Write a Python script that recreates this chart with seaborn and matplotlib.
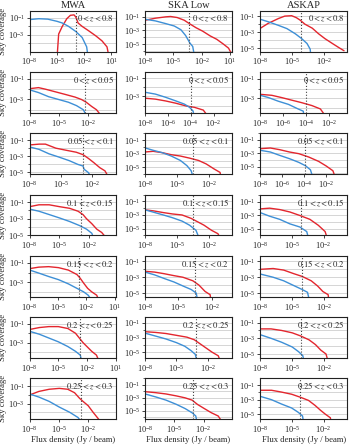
import numpy as np
import pandas as pd
import seaborn as sns
import matplotlib.pyplot as plt
from matplotlib.ticker import LogLocator, NullLocator, FixedLocator, NullFormatter

# === Panel labels ===
telescopes = ["MWA", "SKA Low", "ASKAP"]
z_bins = [r"$0 < z < 0.8$", r"$0 < z < 0.05$", r"$0.05 < z < 0.1$", r"$0.1 < z < 0.15$",
          r"$0.15 < z < 0.2$", r"$0.2 < z < 0.25$", r"$0.25 < z < 0.3$"]

# === Curves: log10 flux density, log10 sky coverage (one entry per z bin) ===
mwa_red_x = [[-5.0, -4.8, -4.4, -3.9, -3.5, -3.1, -2.9, -2.65, -2.2, -1.5, -0.7, 0.0, 0.55, 0.85],
             [-8, -7.1, -6.4, -5.4, -4.4, -3.35, -2.7, -2.2, -1.66, -1.15, -0.65],
             [-8, -7.1, -6.5, -5.5, -4.5, -3.55, -2.9, -2.4, -1.9, -1.3, -0.8, -0.45],
             [-8, -7.07, -6.03, -5.0, -3.96, -3.1, -2.6, -2.24, -1.7, -1.2, -0.7, -0.17],
             [-8, -7.05, -6.0, -4.95, -3.9, -3.0, -2.67, -2.3, -1.86, -1.44, -0.9, -0.67],
             [-8, -7.0, -6.0, -5.0, -4.0, -3.2, -2.8, -2.4, -2.0, -1.5, -1.0, -0.5],
             [-8, -7.06, -6.0, -4.97, -4.1, -3.4, -2.88, -2.53, -2.0, -1.5, -0.96, -0.44, -0.1]]
mwa_red_y = [[-6.0, -2.9, -2.0, -1.1, -0.7, -0.65, -0.9, -1.6, -2.0, -2.5, -3.1, -3.7, -4.4, -6.0],
             [-1.95, -1.85, -2.0, -2.25, -2.5, -2.77, -3.0, -3.27, -3.67, -4.0, -4.6],
             [-1.6, -1.5, -1.5, -2.0, -2.26, -2.5, -2.8, -3.25, -3.75, -4.4, -4.8, -5.6],
             [-1.55, -1.33, -1.33, -1.55, -1.75, -2.1, -2.5, -3.0, -3.6, -4.25, -4.65, -5.4],
             [-1.6, -1.45, -1.4, -1.5, -1.75, -2.2, -2.55, -3.05, -3.6, -3.95, -4.3, -4.8],
             [-1.6, -1.4, -1.3, -1.3, -1.5, -2.0, -2.5, -3.0, -3.4, -3.9, -4.3, -5.5],
             [-2.0, -1.6, -1.35, -1.25, -1.35, -1.75, -2.4, -2.75, -3.25, -4.0, -4.75, -5.5, -6.5]]
mwa_blue_x = [[-8, -7, -6, -5, -4.4, -3.7, -2.9, -2.2, -1.7, -1.5],
              [-8, -7.1, -6.07, -5.05, -4.03, -3.2, -2.5, -2.17],
              [-8, -7.1, -6.15, -5.2, -4.2, -3.4, -2.9, -2.8, -2.4, -2.1],
              [-8, -7.07, -6.03, -5.0, -3.96, -2.93, -2.24, -1.7, -1.5],
              [-8, -7.05, -6.0, -4.95, -3.9, -3.0, -2.3, -1.8, -1.44],
              [-8, -7.0, -6.0, -5.0, -4.0, -3.2, -2.7, -2.4],
              [-8, -7.06, -6.0, -4.97, -3.9, -3.05, -2.7, -2.53, -2.46]]
mwa_blue_y = [[-1.2, -1.1, -1.15, -1.4, -1.6, -2.0, -2.6, -3.3, -4.4, -6.0],
              [-2.07, -2.33, -2.73, -3.0, -3.27, -3.6, -4.0, -4.6],
              [-1.85, -2.15, -2.7, -3.1, -3.55, -4.0, -4.2, -4.6, -5.0, -5.6],
              [-1.85, -2.1, -2.5, -2.9, -3.33, -3.83, -4.25, -4.75, -5.4],
              [-1.75, -2.05, -2.4, -2.72, -3.15, -3.6, -3.95, -4.3, -4.8],
              [-1.8, -2.1, -2.5, -2.9, -3.4, -3.9, -4.3, -5.5],
              [-1.9, -2.25, -2.75, -3.4, -4.0, -4.6, -5.1, -5.75, -6.5]]

ska_red_x = [[-8, -6.9, -5.8, -5.3, -4.6, -3.85, -3.3, -2.6, -1.9, -1.1, -0.4, 0.3, 0.85, 1.2],
             [-8, -7.1, -6.2, -5.3, -4.4, -3.67, -2.9, -2.3],
             [-8, -7.25, -6.4, -5.55, -4.7, -3.85, -3.0, -2.3, -1.55, -1.0, -0.85],
             [-8, -7.2, -6.3, -5.45, -4.55, -3.7, -3.1, -2.5, -1.8, -1.2, -0.77],
             [-8, -7.15, -6.3, -5.4, -4.6, -3.7, -3.15, -2.6, -2.15, -2.0],
             [-8, -7, -6, -5, -4, -3.3, -2.8, -2.2, -1.6, -1.0, -0.6],
             [-8, -6.93, -5.86, -4.8, -3.9, -3.18, -2.64, -1.93, -1.2, -0.5, 0.03]]
ska_red_y = [[-1.5, -1.2, -1.0, -0.95, -1.1, -1.5, -2.0, -2.6, -3.1, -3.8, -4.3, -5.0, -5.6, -6.5],
             [-3.2, -3.3, -3.5, -3.75, -4.05, -4.2, -4.5, -5.5],
             [-2.75, -2.65, -2.85, -3.15, -3.35, -3.65, -4.0, -4.5, -5.25, -5.75, -7.0],
             [-2.25, -2.4, -2.65, -2.85, -3.0, -3.5, -4.0, -4.5, -5.25, -5.75, -7.0],
             [-2.25, -2.35, -2.55, -2.8, -3.0, -3.45, -4.0, -4.8, -5.2, -7.0],
             [-2.2, -2.3, -2.45, -2.7, -2.95, -3.3, -3.8, -4.4, -5.0, -5.5, -7.0],
             [-2.05, -2.2, -2.4, -2.7, -3.0, -3.35, -4.0, -4.65, -5.3, -5.8, -7.0]]
ska_blue_x = [[-8, -6.9, -5.8, -4.9, -4.2, -3.7, -3.25, -2.95, -2.8],
              [-8, -7.1, -6.2, -5.3, -4.55, -4.1, -3.8, -3.65],
              [-8, -7.25, -6.4, -5.55, -4.7, -4.1, -3.7, -3.4],
              [-8, -7.2, -6.3, -5.45, -4.55, -3.85, -3.25, -2.8],
              [-8, -7.15, -6.3, -5.4, -4.6, -3.85, -3.4, -3.15],
              [-8, -7, -6, -5, -4.2, -3.6, -3.2, -2.9],
              [-8, -6.93, -5.86, -4.8, -3.9, -3.18, -2.8, -2.64]]
ska_blue_y = [[-1.35, -1.6, -2.0, -2.35, -2.9, -3.75, -4.85, -5.35, -6.5],
              [-2.55, -2.75, -3.1, -3.5, -3.85, -4.2, -4.6, -5.5],
              [-2.15, -2.5, -2.85, -3.35, -4.0, -4.75, -5.5, -7.0],
              [-2.25, -2.6, -3.0, -3.4, -3.9, -4.5, -5.25, -7.0],
              [-2.35, -2.7, -3.15, -3.6, -4.1, -4.55, -5.0, -7.0],
              [-2.4, -2.8, -3.2, -3.7, -4.2, -4.8, -5.3, -7.0],
              [-2.4, -2.85, -3.35, -4.0, -4.65, -5.3, -5.8, -7.0]]

askap_red_x = [[-8, -7.27, -6.3, -5.7, -5.05, -4.6, -4.25, -3.8, -3.1, -2.5, -1.9, -1.2, -0.6, -0.1],
               [-8, -7.0, -6.15, -5.25, -4.4, -3.5, -2.75, -2.2],
               [-8, -7.1, -6.25, -5.35, -4.5, -3.6, -2.7, -2.0, -1.4, -1.1],
               [-8, -7.13, -6.17, -5.2, -4.25, -3.3, -2.5, -1.85, -1.5],
               [-8, -6.8, -5.8, -4.85, -4.05, -3.2, -2.6, -2.1, -1.6, -1.45],
               [-8, -7, -6, -5, -4.2, -3.4, -2.8, -2.3, -1.8, -1.4],
               [-8, -6.95, -6.0, -5.03, -4.23, -3.43, -2.8, -2.3, -1.83, -1.35, -1.2]]
askap_red_y = [[-2.5, -1.9, -1.3, -1.0, -0.95, -1.2, -1.5, -2.0, -2.5, -3.2, -3.8, -4.4, -4.9, -5.3],
               [-2.6, -2.7, -2.93, -3.2, -3.45, -3.75, -4.1, -5.0],
               [-2.3, -2.2, -2.45, -2.8, -3.05, -3.55, -4.2, -4.9, -5.6, -7.0],
               [-2.05, -1.95, -2.15, -2.5, -3.0, -3.55, -4.4, -5.3, -7.0],
               [-2.0, -1.9, -2.1, -2.55, -2.9, -3.45, -4.1, -4.8, -5.2, -7.0],
               [-1.8, -1.8, -2.0, -2.3, -2.7, -3.2, -3.8, -4.5, -5.0, -7.0],
               [-1.7, -1.7, -1.95, -2.25, -2.65, -3.1, -3.8, -4.45, -5.0, -5.5, -7.0]]
askap_blue_x = [[-8, -7.27, -6.3, -5.5, -4.7, -4.1, -3.6, -3.3, -3.2],
                [-8, -7.3, -6.45, -5.55, -4.7, -4.25, -4.1],
                [-8, -7.1, -6.25, -5.35, -4.5, -3.9, -3.45, -3.15],
                [-8, -7.13, -6.17, -5.2, -4.25, -3.6, -3.3],
                [-8, -6.8, -5.8, -4.85, -4.05, -3.55, -3.2],
                [-8, -7, -6, -5, -4.4, -4.0, -3.7],
                [-8, -6.95, -6.0, -5.03, -4.4, -4.0, -3.8]]
askap_blue_y = [[-1.4, -1.7, -2.15, -2.55, -3.2, -3.8, -4.4, -5.1, -6.5],
                [-2.7, -2.93, -3.3, -3.63, -4.1, -4.33, -5.5],
                [-2.55, -2.8, -3.3, -3.8, -4.35, -4.85, -5.45, -7.0],
                [-2.6, -3.1, -3.55, -4.2, -4.65, -5.3, -7.0],
                [-2.6, -3.0, -3.45, -4.05, -4.55, -4.9, -7.0],
                [-2.55, -3.0, -3.5, -4.1, -4.7, -5.2, -7.0],
                [-2.55, -3.0, -3.6, -4.15, -4.75, -5.25, -7.0]]

# log10 flux of the dotted vertical line
mwa_line = [-2.9, -2.35, -2.95, -2.75, -2.75, -2.7, -2.7]
ska_line = [-3.3, -4.0, -3.55, -3.55, -3.55, -3.1, -3.05]
askap_line = [-4.2, -4.0, -3.95, -4.1, -4.05, -4.2, -4.2]

# === Axis ranges (log10) ===
mwa_xmax = [1.6, 0.9, 0.3, 0.8, 1.2, 1.1, 0.9]
ska_xmax = [1.2, -0.4, 0.1, 0.1, -0.2, 0.3, 0.9]
askap_xmax = [0.2, -0.4, -0.1, 0.25, 0.2, 0.2, 0.25]
mwa_ylim = [(-4.95, -0.16), (-4.3, -0.33), (-5.2, -0.16), (-5.0, -0.1), (-4.45, -0.3), (-4.6, -0.3), (-4.8, -0.1)]
ska_ylim = [(-6.1, -0.1), (-4.8, -0.33), (-6.0, 0.0), (-6.0, 0.0), (-5.45, -0.3), (-5.8, -0.2), (-6.3, 0.0)]
askap_ylim = [(-5.4, -0.33), (-4.5, -0.3), (-6.1, 0.0), (-5.85, 0.0), (-5.45, -0.3), (-5.5, -0.3), (-5.7, -0.06)]
xtick_step = [[3, 3, 3, 3, 3, 3, 3], [3, 2, 3, 3, 3, 3, 3], [3, 2, 2, 3, 3, 3, 3]]

red_x = [mwa_red_x, ska_red_x, askap_red_x]
red_y = [mwa_red_y, ska_red_y, askap_red_y]
blue_x = [mwa_blue_x, ska_blue_x, askap_blue_x]
blue_y = [mwa_blue_y, ska_blue_y, askap_blue_y]
lines = [mwa_line, ska_line, askap_line]
xmaxs = [mwa_xmax, ska_xmax, askap_xmax]
ylims = [mwa_ylim, ska_ylim, askap_ylim]

RED = "#e3262e"
BLUE = "#3d8fd6"

# === Style ===
sns.set_style("ticks")
plt.rcParams["font.family"] = ["Liberation Serif", "DejaVu Serif"]
plt.rcParams["mathtext.fontset"] = "stix"
plt.rcParams["axes.linewidth"] = 0.8
plt.rcParams["axes.edgecolor"] = "#222222"

fig, axes = plt.subplots(7, 3, figsize=(3.5, 4.46), dpi=100)
fig.subplots_adjust(left=0.085, right=0.992, top=0.976, bottom=0.06, wspace=0.33, hspace=0.5)

for c in range(3):
    for r in range(7):
        ax = axes[r, c]
        ax.set_xscale("log")
        ax.set_yscale("log")
        df = pd.concat([
            pd.DataFrame({"flux": 10.0 ** np.array(red_x[c][r]), "cov": 10.0 ** np.array(red_y[c][r]), "kind": "red"}),
            pd.DataFrame({"flux": 10.0 ** np.array(blue_x[c][r]), "cov": 10.0 ** np.array(blue_y[c][r]), "kind": "blue"}),
        ])
        sns.lineplot(data=df, x="flux", y="cov", hue="kind", palette={"red": RED, "blue": BLUE},
                     estimator=None, sort=False, legend=False, lw=1.0, ax=ax)
        ax.axvline(10.0 ** lines[c][r], color="#444444", ls=":", lw=0.8)

        ax.set_xlim(1e-8, 10.0 ** xmaxs[c][r])
        lo, hi = ylims[c][r]
        ax.set_ylim(10.0 ** lo, 10.0 ** hi)

        step = xtick_step[c][r]
        ax.xaxis.set_major_locator(FixedLocator(10.0 ** np.arange(-8, xmaxs[c][r] + 0.01, step)))
        ax.xaxis.set_minor_locator(NullLocator())
        ax.yaxis.set_major_locator(FixedLocator([1e-1, 1e-3, 1e-5]))
        ax.yaxis.set_minor_locator(LogLocator(base=10, subs=(1.0,), numticks=30))
        ax.yaxis.set_minor_formatter(NullFormatter())
        ax.grid(axis="y", which="both", color="#cfcfcf", lw=0.6)
        ax.set_axisbelow(True)
        ax.tick_params(which="major", labelsize=6, length=2, width=0.6, pad=1.5)
        ax.tick_params(which="minor", length=1.2, width=0.5)

        ax.text(0.97, 0.93, z_bins[r], transform=ax.transAxes, ha="right", va="top", fontsize=6.2)
        ax.set_xlabel("Flux density (Jy / beam)" if r == 6 else "", fontsize=6.2, labelpad=1)
        ax.set_ylabel("Sky coverage" if c == 0 else "", fontsize=6.2, labelpad=1)
        if r == 0:
            ax.set_title(telescopes[c], fontsize=7.5, pad=2)

plt.savefig("out.png", dpi=100)
